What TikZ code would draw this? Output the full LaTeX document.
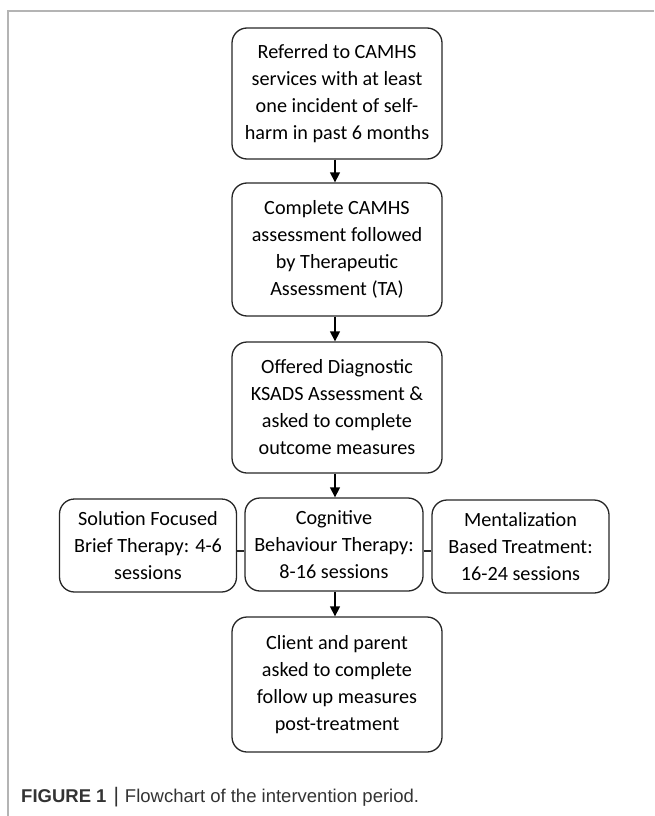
\documentclass[tikz,border=0pt]{standalone}
\usepackage{fontspec}
\setmainfont{Carlito}
\newfontfamily\capfont{Liberation Sans}
\usetikzlibrary{arrows.meta}
\definecolor{framegray}{HTML}{B4B4B4}
\definecolor{capgray}{HTML}{333333}
\tikzset{
  flowbox/.style={draw=black!85, line width=1.3pt, rounded corners=15pt, align=center,
    inner sep=0pt, font=\fontsize{20.2}{27}\selectfont},
  mainbox/.style={flowbox, minimum width=210pt},
  rowbox/.style={flowbox, minimum width=177pt, minimum height=93pt},
  flowarrow/.style={draw=black, line width=1.3pt, -{Triangle[length=10pt,width=10pt]}},
  linkline/.style={draw=black!85, line width=1.3pt},
  framerule/.style={draw=framegray, line width=1.3pt}
}
\begin{document}
\begin{tikzpicture}[x=1pt,y=-1pt]
\useasboundingbox (0,0) rectangle (654,816);
\coordinate (fb) at (8,816);
\coordinate (fc) at (8,11);
\coordinate (fr) at (654,11);
\draw[framerule] (fb) -- (fc) -- (fr);

\node[mainbox, minimum height=131pt] (b1) at (337,93.5)
  {Referred to CAMHS\\services with at least\\one incident of self-\\harm in past 6 months};
\node[mainbox, minimum height=133pt] (b2) at (337,249.5)
  {Complete CAMHS\\assessment followed\\by Therapeutic\\Assessment (TA)};
\node[mainbox, minimum height=131pt] (b3) at (337,407.5)
  {Offered Diagnostic\\KSADS Assessment \&\\asked to complete\\outcome measures};
\node[rowbox] (sfbt) at (148,545.5)
  {Solution Focused\\Brief Therapy: 4-6\\sessions};
\node[rowbox, minimum width=178pt] (cbt) at (334,544.5)
  {Cognitive\\Behaviour Therapy:\\8-16 sessions};
\node[rowbox] (mbt) at (520.5,546.5)
  {Mentalization\\Based Treatment:\\16-24 sessions};
\node[mainbox, minimum height=135pt] (b4) at (337,684.5)
  {Client and parent\\asked to complete\\follow up measures\\post-treatment};

\draw[flowarrow] (b1.south -| 335,0) -- (b2.north -| 335,0);
\draw[flowarrow] (b2.south -| 335,0) -- (b3.north -| 335,0);
\draw[flowarrow] (b3.south -| 335,0) -- (cbt.north -| 335,0);
\draw[flowarrow] (cbt.south -| 335,0) -- (b4.north -| 335,0);
\draw[linkline] (sfbt.east |- 0,551) -- (cbt.west |- 0,551);
\draw[linkline] (cbt.east |- 0,551) -- (mbt.west |- 0,551);

\node[anchor=west, inner sep=0pt, text=capgray, font=\capfont\fontsize{18.5}{21}\selectfont] (cap) at (21,797)
  {\textbf{FIGURE 1}\hspace{7pt}{\fontsize{21}{21}\selectfont|}\hspace{6pt}Flowchart of the intervention period.};
\end{tikzpicture}
\end{document}
